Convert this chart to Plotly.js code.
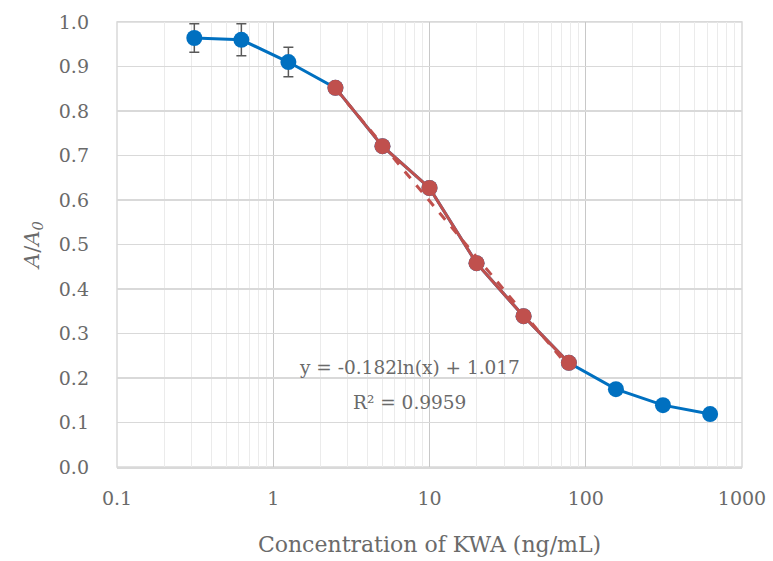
<!DOCTYPE html>
<html>
<head>
<meta charset="utf-8">
<script src="https://cdn.plot.ly/plotly-3.0.1.min.js"></script>
<style>html,body{margin:0;padding:0;background:#fff;}#chart{width:773px;height:561px;}</style>
</head>
<body>
<div id="chart"></div>
<script>
// Concentrations (ng/mL) and A/A0 values
var concAll = [0.3125, 0.625, 1.25, 2.5, 5, 10, 20, 40, 78, 156, 312, 625];
var ratioAll = [0.964, 0.960, 0.910, 0.852, 0.721, 0.627, 0.458, 0.339, 0.234, 0.175, 0.139, 0.119];
var errAll = [0.032, 0.036, 0.033, null, null, null, null, null, null, null, null, null];

var concLinear = [2.5, 5, 10, 20, 40, 78];
var ratioLinear = [0.852, 0.721, 0.627, 0.458, 0.339, 0.234];

// Logarithmic trendline coefficients shown on the chart
var trendSlope = -0.182;
var trendIntercept = 1.017;
var trendRange = [2.5, 78];
var trendY = trendRange.map(function (x) { return trendSlope * Math.log(x) + trendIntercept; });

var xTicks = [0.1, 1, 10, 100, 1000];
var xTickText = ['0.1', '1', '10', '100', '1000'];

var font = 'DejaVu Serif, Liberation Serif, serif';
var grey = '#6a6a6a';

var traces = [
  {
    x: concAll, y: ratioAll, type: 'scatter', mode: 'lines+markers',
    line: {color: '#0070C0', width: 3},
    marker: {color: '#0070C0', size: 16},
    error_y: {type: 'data', array: errAll, visible: true, color: '#595959', thickness: 1.5, width: 5},
    hoverinfo: 'skip', showlegend: false
  },
  {
    x: trendRange, y: trendY, type: 'scatter', mode: 'lines',
    line: {color: '#C0504D', width: 3, dash: 'dash'},
    hoverinfo: 'skip', showlegend: false
  },
  {
    x: concLinear, y: ratioLinear, type: 'scatter', mode: 'lines+markers',
    line: {color: '#C0504D', width: 3},
    marker: {color: '#C0504D', size: 16},
    hoverinfo: 'skip', showlegend: false
  }
];

var W = 773, ML = 89, MR = 31, PLOT_LEFT = 117;
var xStart = (PLOT_LEFT - ML) / (W - ML - MR);

var layout = {
  width: W, height: 561,
  margin: {l: ML, r: MR, t: 22, b: 94},
  paper_bgcolor: '#fff', plot_bgcolor: '#fff',
  font: {family: font, color: grey, size: 19},
  xaxis: {
    type: 'log', range: [-1, 3], domain: [xStart, 1],
    tickvals: xTicks, ticktext: xTickText,
    showgrid: true, gridcolor: '#c8c8c8', gridwidth: 1,
    minor: {dtick: 'D1', showgrid: true, gridcolor: '#ebebeb', gridwidth: 1, ticks: ''},
    showline: true, linecolor: '#d9d9d9', linewidth: 1.5, mirror: true,
    zeroline: false, ticks: '', ticklabelstandoff: 14,
    tickfont: {family: font, size: 19, color: grey},
    title: {text: 'Concentration of KWA (ng/mL)', font: {family: font, size: 22, color: grey}, standoff: 28}
  },
  yaxis: {
    range: [0, 1.0], dtick: 0.1, tickformat: '.1f',
    anchor: 'free', position: 0,
    showgrid: true, gridcolor: '#d9d9d9', gridwidth: 1.5,
    showline: false, zeroline: false, ticks: '',
    tickfont: {family: font, size: 19, color: grey},
    title: {text: '<i>A</i>/<i>A</i><sub><i>0</i></sub>', font: {family: font, size: 21, color: grey}, standoff: 12}
  },
  shapes: [
    {type: 'rect', xref: 'x domain', yref: 'y domain', x0: 0, x1: 1, y0: 0, y1: 1,
     line: {color: '#d9d9d9', width: 1.5}, layer: 'below'}
  ],
  annotations: [
    {x: Math.log10(7.4), y: 0.2247, xref: 'x', yref: 'y', text: 'y = -0.182ln(x) + 1.017', showarrow: false,
     font: {family: font, size: 18.5, color: grey}, yanchor: 'middle'},
    {x: Math.log10(7.4), y: 0.146, xref: 'x', yref: 'y', text: 'R² = 0.9959', showarrow: false,
     font: {family: font, size: 18.5, color: grey}, yanchor: 'middle'}
  ]
};

Plotly.newPlot('chart', traces, layout, {displayModeBar: false, staticPlot: true});
</script>
</body>
</html>
